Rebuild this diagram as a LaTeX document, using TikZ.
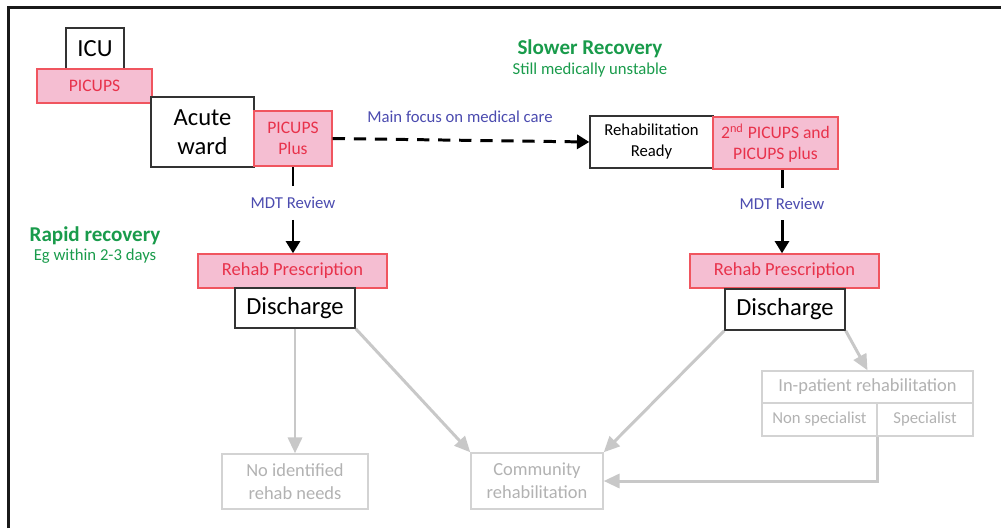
\documentclass[tikz,border=0pt]{standalone}
\usepackage{fontspec}
\setmainfont{Carlito}
\usetikzlibrary{arrows.meta}
\definecolor{pinkfill}{RGB}{245,190,210}
\definecolor{pinkline}{RGB}{240,85,95}
\definecolor{pinktext}{RGB}{232,50,75}
\definecolor{bluetext}{RGB}{75,75,175}
\definecolor{greentext}{RGB}{25,155,75}
\definecolor{greyline}{RGB}{200,200,200}
\definecolor{greytext}{RGB}{178,178,178}
\begin{document}
\begin{tikzpicture}
			[x=0.02cm,y=-0.02cm,
			blk/.style={draw=black!80,line width=0.8pt,fill=white,align=center,inner sep=0pt},
			pnk/.style={draw=pinkline,line width=0.8pt,fill=pinkfill,text=pinktext,align=center,inner sep=0pt},
			gry/.style={draw=greyline!80!white,line width=0.8pt,fill=white,text=greytext,align=center,inner sep=0pt},
			lbl/.style={text=bluetext,inner sep=0pt,font=\fontsize{9.5}{11}\selectfont},
			garrow/.style={draw=greyline,line width=1.7pt,-{Triangle[length=9pt,width=8pt]}},
			barrow/.style={draw=black,line width=1.7pt,-{Triangle[length=7pt,width=8pt]}}]
			\useasboundingbox (0,0) rectangle (1001,528);
			\draw[line width=1.6pt,black!90] (8.5,528)--(8.5,7.5)--(1001,7.5);
			% top left
			\node[blk,name=icu,minimum width=1.16cm,minimum height=0.82cm,font=\fontsize{14}{16}\selectfont] at (95,48.5) {ICU};
			\node[pnk,name=picups,minimum width=2.3cm,minimum height=0.68cm,font=\fontsize{10}{12}\selectfont] at (94.5,86) {PICUPS};
			\node[blk,name=acute,minimum width=2.06cm,minimum height=1.4cm,font=\fontsize{14}{16.5}\selectfont] at (202.5,132) {Acute\\ward};
			\node[pnk,name=ppplus,minimum width=1.56cm,minimum height=1.1cm,font=\fontsize{10}{12}\selectfont] at (293,138.5) {PICUPS\\Plus};
			% top right
			\node[blk,name=rready,minimum width=2.46cm,minimum height=1.04cm,font=\fontsize{9.5}{12}\selectfont] at (651.5,142) {Rehabilitation\\Ready};
			\node[pnk,name=picups2,minimum width=2.5cm,minimum height=1.04cm,font=\fontsize{10}{12}\selectfont] at (775.5,143) {2\textsuperscript{nd} PICUPS and\\PICUPS plus};
			% green notes
			\node[text=greentext,font=\bfseries\fontsize{12}{14}\selectfont,name=slow] at (590,49) {Slower Recovery};
			\node[text=greentext,font=\fontsize{9.5}{11}\selectfont,name=slow2] at (590,70) {Still medically unstable};
			\node[text=greentext,font=\bfseries\fontsize{12}{14}\selectfont,name=rapid] at (95,236) {Rapid recovery};
			\node[text=greentext,font=\fontsize{9.5}{11}\selectfont,name=rapid2] at (95,256) {Eg within 2-3 days};
			% blue labels
			\node[lbl,name=focus] at (460,117) {Main focus on medical care};
			\node[lbl,name=mdtl,minimum height=0.66cm] at (293,203) {MDT Review};
			\node[lbl,name=mdtr,minimum height=0.64cm] at (782,204) {MDT Review};
			% prescription and discharge
			\node[pnk,name=rxl,minimum width=3.78cm,minimum height=0.68cm,font=\fontsize{10.5}{12}\selectfont] at (292.5,271) {Rehab Prescription};
			\node[blk,name=disl,minimum width=2.4cm,minimum height=0.8cm,font=\fontsize{14}{16}\selectfont] at (295,308) {Discharge};
			\node[pnk,name=rxr,minimum width=3.78cm,minimum height=0.68cm,font=\fontsize{10.5}{12}\selectfont] at (784.5,271) {Rehab Prescription};
			\node[blk,name=disr,minimum width=2.4cm,minimum height=0.82cm,font=\fontsize{14}{16}\selectfont] at (785,309.5) {Discharge};
			% outcomes
			\node[gry,name=noid,minimum width=2.92cm,minimum height=1.1cm,font=\fontsize{10.5}{13}\selectfont] at (295,481.5) {No identified\\rehab needs};
			\node[gry,name=comm,minimum width=2.64cm,minimum height=1.12cm,font=\fontsize{10.5}{13}\selectfont] at (537,481) {Community\\rehabilitation};
			\node[gry,name=inp,minimum width=4.22cm,minimum height=0.64cm,font=\fontsize{10.5}{12}\selectfont] at (867.5,387) {In-patient rehabilitation};
			\node[gry,name=nonsp,minimum width=2.3cm,minimum height=0.66cm,font=\fontsize{9.5}{11}\selectfont] at (819.5,419.5) {Non specialist};
			\node[gry,name=spec,minimum width=1.92cm,minimum height=0.66cm,font=\fontsize{9.5}{11}\selectfont] at (925,419.5) {Specialist};
			% connectors
			\draw[barrow,dash pattern=on 7pt off 5pt] (ppplus.east)--(rready.west);
			\draw[line width=1.7pt] (mdtl.north)--(mdtl.north |- ppplus.south);
			\draw[barrow] (mdtl.south)--(mdtl.south |- rxl.north);
			\draw[line width=1.7pt] (mdtr.north)--(mdtr.north |- picups2.south);
			\draw[barrow] (mdtr.south)--(mdtr.south |- rxr.north);
			\draw[garrow] (disl.south)--(noid.north);
			\draw[garrow] (disl.south east)--(comm.north west);
			\draw[garrow] (disr.south west)--(comm.north east);
			\draw[garrow] (disr.south east)--(inp.north);
			\draw[garrow] (nonsp.south east)|-(comm.east);
		\end{tikzpicture}
\end{document}
